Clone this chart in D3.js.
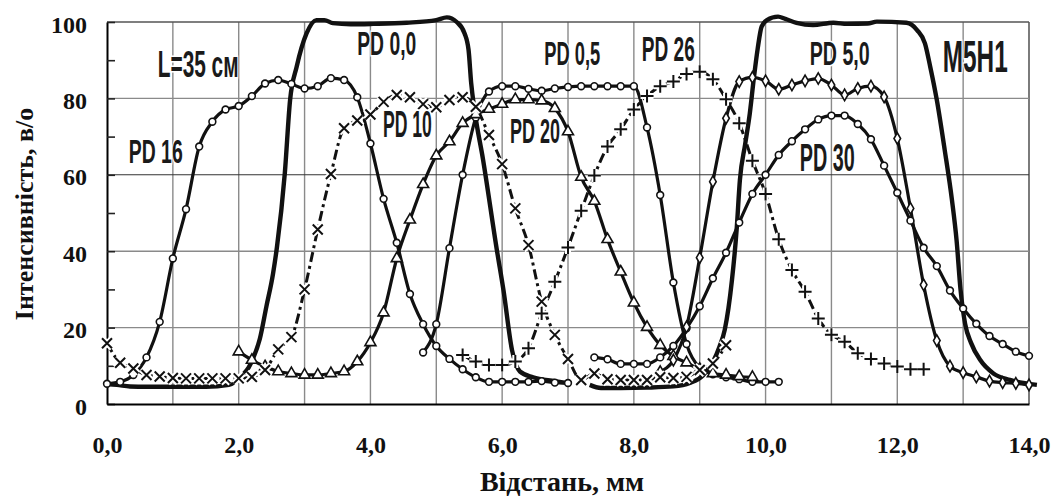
<!DOCTYPE html>
<html>
<head>
<meta charset="utf-8">
<title>Інтенсивність</title>
<script src="https://d3js.org/d3.v7.min.js"></script>
<style>
  body { margin: 0; background: #fff; }
  .ax text { font-family: "Liberation Serif", "Times New Roman", serif; font-weight: bold; font-size: 24px; fill: #111; }
  .ttl { font-family: "Liberation Serif", "Times New Roman", serif; font-weight: bold; font-size: 26px; fill: #111; }
  .note { font-family: "Liberation Sans Narrow", "Arial Narrow", "Liberation Sans", sans-serif; font-weight: bold; fill: #1a1a1a;
          paint-order: stroke; stroke: #fff; stroke-width: 3px; }
</style>
</head>
<body>
<div id="chart"></div>
<script>
// ---- data ----
// curves with markers every 0.2 mm: first x, then values
var pd16Start = 0.0;
var pd16 = [5.3,5.8,7.6,12.2,21.5,38.1,51,67.4,73.9,77.1,78,80.6,83.9,84.8,83.8,82.6,83.2,85.3,84.8,80.3,
            68.2,53.7,42.2,28.8,20.9,15.2,11.8,9.1,7.0,5.8,5.8,5.8,5.8,6.0,5.6,5.5];
var pd10Start = 0.0;
var pd10 = [15.9,10.8,9.3,7.6,7.2,6.8,6.7,6.7,6.7,6.7,6.7,7.1,8.9,14.3,17.5,30,45.7,60.2,72.2,74.2,
            75.8,79.1,80.9,80.3,78.5,77.7,79.6,80.3,77.8,70.4,62.8,51.2,41.6,26.8,18.1,11.8,6.3,8.0,6.5,6.3,
            6.3,6.3,7.0,6.8,7.1,8.9,10.6,15.4];
var pd05Start = 4.8;
var pd05 = [13.5,20.9,40.8,60,75,81.8,83.2,83.2,82.5,82,82.6,83,83.2,83.2,83.2,83.2,83.2,72.4,54.7,31.8,
            15.7,9.5,7.8,7,6.5,5.8,5.8,5.8];
var pd20Start = 2.0;
var pd20 = [13.7,11.5,9.8,8.5,8.0,7.6,7.6,8.0,8.5,11.1,16.1,23.9,38.1,48.2,57.5,65,68.7,73.5,75.8,77.2,
            78.5,79.7,79.7,79.4,77.4,71.3,59.4,53.1,43.1,34.6,26.5,20.1,15.4,12.5,10.8,9.1,8.0,7.6,7.2,7.0];
var pd26Start = 5.4;
var pd26 = [12.8,11.1,10.2,10.2,11.1,14.6,23.7,32,41,50.6,59.8,67.4,71.9,77.1,80.6,83.2,84.4,86.4,87,85,
            79.8,73.5,63.7,55,43.1,35.1,29.4,22.4,18.1,16.3,13.3,11.8,10.6,9.8,9.1,9.1];
var pd50Start = 8.4;
var pd50 = [8.5,11.5,20.2,38.3,58.2,74.8,84.4,85.5,84.6,82.4,83.5,84.6,85.2,83.5,80.9,82.6,83.2,80.4,69.5,51.2,
            31.2,16.6,9.9,8.2,7.1,6.0,5.6,5.4,5.0];
var pd30Start = 7.4;
var pd30 = [12.2,11.7,10.5,10.5,10.5,12.2,15.2,19.8,25.6,32.9,39.6,47.5,55,60,65.2,68.8,71.9,74.5,75.5,75.5,
            73.3,69.3,62.4,55.3,48,40.9,36.1,29.7,25,21,17.8,15.7,13.7,12.6];

// plain thick curves (no markers)
var pd00X = [0,0.15,0.35,0.6,1.0,1.5,1.85,2.05,2.15,2.22,2.32,2.42,2.52,2.58,2.70,2.78,2.88,3.03,3.18,3.3,
             3.43,3.7,4.04,4.55,5.0,5.16,5.31,5.43,5.49,5.53,5.58,5.71,5.92,6.02,6.15,6.27,6.47,6.8,7.05];
var pd00Y = [5.2,5.0,4.6,4.5,4.5,4.5,5.0,7.5,9.5,12,17,25.5,34,41,60.4,79.6,88.3,97,100.5,100.5,
             99.7,99.4,99.5,99.8,100.5,101.2,100,97,92.7,84,77,64,40.3,29.8,14.1,8.5,7,6,5.3];
var topX = [7.33,7.5,7.8,8.2,8.6,8.85,9.05,9.2,9.3,9.38,9.49,9.56,9.61,9.69,9.76,9.82,9.88,9.94,10.02,10.19,
            10.3,10.47,10.72,11.03,11.24,11.55,11.69,12.14,12.3,12.42,12.5,12.6,12.72,12.83,12.9,12.96,13.03,13.12,13.26,13.46,
            13.71,14.12];
var topY = [5.0,4.2,4.2,4.3,4.6,5.5,7.5,11,15,19.4,32.5,45.5,58.6,68,76,85,93,98.8,100.5,101.4,
            100.8,99.8,99.2,99.8,99.5,99.6,100.1,99.8,97.9,94.4,88.3,79.6,66.5,53.4,42.9,30,21,16,11.5,8,
            6.3,5.0];

var xTicks = [0,2,4,6,8,10,12,14];
var yTicks = [0,20,40,60,80,100];
var yMinor = [10,30,50,70,90];

var labels = [
  {t: "L=35 см", x: 0.77, y: 85.6, big: 37, w: 81},
  {t: "PD 16",  x: 0.33, y: 63.1, big: 34, w: 54},
  {t: "PD 0,0", x: 3.80, y: 91.4, big: 33, w: 59},
  {t: "PD 0,5", x: 6.64, y: 88.7, big: 33, w: 56},
  {t: "PD 26",  x: 8.12, y: 89.8, big: 35, w: 53},
  {t: "PD 10",  x: 4.19, y: 69.9, big: 36, w: 49},
  {t: "PD 20",  x: 6.12, y: 68.3, big: 35, w: 50},
  {t: "PD 5,0", x: 10.67, y: 88.7, big: 34, w: 60},
  {t: "M5H1",   x: 12.69, y: 86.9, big: 44, w: 65},
  {t: "PD 30",  x: 10.52, y: 61.0, big: 39, w: 55}
];

// ---- chart ----
var W = 1052, H = 496;
var svg = d3.select("#chart").append("svg").attr("width", W).attr("height", H);

var x = d3.scaleLinear().domain([0, 14]).range([107, 1029]);
var y = d3.scaleLinear().domain([0, 100]).range([404, 22]);

function stepX(start, n) {
  return d3.range(n).map(function(i) { return Math.round((start + i * 0.2) * 100) / 100; });
}

var series = [
  {xs: pd00X, ys: pd00Y, mark: null, line: "thick"},
  {xs: topX, ys: topY, mark: null, line: "thick"},
  {xs: stepX(pd16Start, pd16.length), ys: pd16, mark: "circle", line: "solid"},
  {xs: stepX(pd05Start, pd05.length), ys: pd05, mark: "circle", line: "solid"},
  {xs: stepX(pd20Start, pd20.length), ys: pd20, mark: "triangle", line: "solid"},
  {xs: stepX(pd30Start, pd30.length), ys: pd30, mark: "circle", line: "solid"},
  {xs: stepX(pd50Start, pd50.length), ys: pd50, mark: "diamond", line: "solid"},
  {xs: stepX(pd10Start, pd10.length), ys: pd10, mark: "cross", line: "dash"},
  {xs: stepX(pd26Start, pd26.length), ys: pd26, mark: "plus", line: "dash"}
];

// grid
var grid = svg.append("g");
grid.selectAll("line.v").data(d3.range(1, 15)).join("line")
  .attr("x1", function(d) { return x(d); }).attr("x2", function(d) { return x(d); })
  .attr("y1", y(0)).attr("y2", y(100))
  .attr("stroke", function(d) { return d === 14 ? "#444" : "#8a8a8a"; })
  .attr("stroke-width", 1.4);
grid.selectAll("line.h").data(yTicks.slice(1)).join("line")
  .attr("x1", x(0)).attr("x2", x(14))
  .attr("y1", function(d) { return y(d); }).attr("y2", function(d) { return y(d); })
  .attr("stroke", function(d) { return d === 60 ? "#333" : (d === 100 ? "#555" : "#8a8a8a"); })
  .attr("stroke-width", function(d) { return d === 60 ? 1.1 : 1.4; });

// axes
var yAxis = svg.append("g").attr("class", "ax")
  .attr("transform", "translate(" + x(0) + ",0)")
  .call(d3.axisLeft(y).tickValues(yTicks).tickSizeInner(-8).tickSizeOuter(0).tickPadding(20));
yAxis.selectAll("text").attr("dy", "0.42em");
svg.append("g").attr("transform", "translate(" + x(0) + ",0)")
  .call(d3.axisLeft(y).tickValues(yMinor).tickSizeInner(-8).tickSizeOuter(0).tickFormat(""))
  .call(function(g) { g.select(".domain").remove(); });

var xAxis = svg.append("g").attr("class", "ax")
  .attr("transform", "translate(0," + y(0) + ")")
  .call(d3.axisBottom(x).tickValues(xTicks).tickSize(0).tickPadding(32)
        .tickFormat(function(d) { return d.toFixed(1).replace(".", ","); }));

svg.selectAll(".ax .domain").attr("stroke", "#000").attr("stroke-width", 2);
svg.selectAll("g .tick line").attr("stroke", "#222").attr("stroke-width", 1.6);

// curves
var lineGen = d3.line().curve(d3.curveMonotoneX);
var curves = svg.append("g").attr("fill", "none").attr("stroke", "#111").attr("stroke-linejoin", "round");
series.forEach(function(s) {
  var pts = s.xs.map(function(v, i) { return [x(v), y(s.ys[i])]; });
  var p = curves.append("path").attr("d", lineGen(pts));
  if (s.line === "thick") p.attr("stroke-width", 4.4);
  else if (s.line === "solid") p.attr("stroke-width", 3.2);
  else p.attr("stroke-width", 3).attr("stroke-dasharray", "10,4,3,4");
});

// markers
var marks = svg.append("g");
var tri = d3.symbol(d3.symbolTriangle, 52)();
var dia = d3.symbol(d3.symbolDiamond, 38)();
series.forEach(function(s) {
  if (!s.mark) return;
  var pts = s.xs.map(function(v, i) { return [x(v), y(s.ys[i])]; });
  var g = marks.append("g");
  pts.forEach(function(p) {
    var t = "translate(" + p[0] + "," + p[1] + ")";
    if (s.mark === "circle") {
      g.append("circle").attr("cx", p[0]).attr("cy", p[1]).attr("r", 3.4)
        .attr("fill", "#fff").attr("stroke", "#111").attr("stroke-width", 1.6);
    } else if (s.mark === "triangle") {
      g.append("path").attr("d", tri).attr("transform", t)
        .attr("fill", "#fff").attr("stroke", "#111").attr("stroke-width", 1.6);
    } else if (s.mark === "diamond") {
      g.append("path").attr("d", dia).attr("transform", t)
        .attr("fill", "#fff").attr("stroke", "#111").attr("stroke-width", 1.6);
    } else {
      var d = s.mark === "cross" ? "M-5,-5L5,5M-5,5L5,-5" : "M-6.5,0L6.5,0M0,-6.5L0,6.5";
      g.append("path").attr("d", d).attr("transform", t)
        .attr("stroke", "#fff").attr("stroke-width", 6).attr("fill", "none");
      g.append("path").attr("d", d).attr("transform", t)
        .attr("stroke", "#111").attr("stroke-width", 2).attr("fill", "none");
    }
  });
});

// annotations: condensed by horizontal scaling to the measured width
svg.append("g").selectAll("text").data(labels).join("text")
  .attr("class", "note")
  .style("font-size", function(d) { return d.big + "px"; })
  .text(function(d) { return d.t; })
  .attr("transform", function(d) {
    var natural = this.getComputedTextLength() || d.w;
    return "translate(" + x(d.x) + "," + y(d.y) + ") scale(" + (d.w / natural) + ",1)";
  });

// titles
svg.append("text").attr("class", "ttl")
  .style("font-size", "28px")
  .attr("x", 562).attr("y", 491).attr("text-anchor", "middle")
  .text("Відстань, мм");
svg.append("text").attr("class", "ttl")
  .attr("transform", "translate(33,214) rotate(-90)")
  .attr("text-anchor", "middle")
  .text("Інтенсивність, в/о");
</script>
</body>
</html>
